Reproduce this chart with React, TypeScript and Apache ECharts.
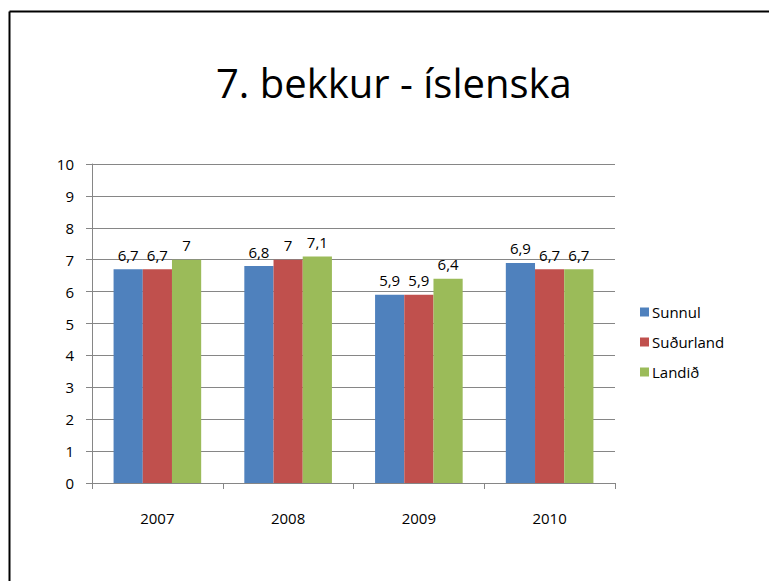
import React, { useEffect, useRef } from "react";
import * as echarts from "echarts";

const categories = ["2007", "2008", "2009", "2010"];
const seriesNames = ["Sunnul", "Suðurland", "Landið"];
const sunnul = [6.7, 6.8, 5.9, 6.9];
const sudurland = [6.7, 7, 5.9, 6.7];
const landid = [7, 7.1, 6.4, 6.7];
const colors = ["#4F81BD", "#C0504D", "#9BBB59"];
const titleText = "7. bekkur - íslenska";

const FONT = "'Open Sans', 'Noto Sans', sans-serif";

export default function App() {
  const ref = useRef<HTMLDivElement>(null);
  useEffect(() => {
    if (!ref.current) return;
    const chart = echarts.init(ref.current, null, { renderer: "svg" });
    const values = [sunnul, sudurland, landid];
    chart.setOption({
      animation: false,
      backgroundColor: "#ffffff",
      textStyle: { fontFamily: FONT },
      title: {
        text: titleText,
        left: 211,
        top: 57,
        textStyle: { fontFamily: FONT, fontSize: 40, fontWeight: "normal", color: "#000" },
      },
      graphic: [
        { type: "line", shape: { x1: 9.5, y1: 11.5, x2: 769, y2: 11.5 }, style: { stroke: "#000", lineWidth: 2 } },
        { type: "line", shape: { x1: 9.5, y1: 11.5, x2: 9.5, y2: 581 }, style: { stroke: "#000", lineWidth: 2 } },
      ],
      legend: {
        orient: "vertical",
        left: 635,
        top: 299,
        itemWidth: 9,
        itemHeight: 9,
        itemGap: 14,
        icon: "rect",
        textStyle: { fontFamily: FONT, fontSize: 15, color: "#000", lineHeight: 16, padding: [0, 0, 0, -2] },
        data: seriesNames,
      },
      grid: { left: 92, right: 154, top: 164, bottom: 98, containLabel: false },
      xAxis: {
        type: "category",
        data: categories,
        axisLine: { lineStyle: { color: "#868686", width: 1 } },
        axisTick: { show: true, length: 6, lineStyle: { color: "#868686" } },
        axisLabel: { color: "#000", fontSize: 15, margin: 27, fontFamily: FONT },
        splitLine: { show: false },
      },
      yAxis: {
        type: "value",
        min: 0,
        max: 10,
        interval: 1,
        axisLine: { show: true, lineStyle: { color: "#868686", width: 1 } },
        axisTick: { show: true, length: 6, lineStyle: { color: "#868686" } },
        axisLabel: { color: "#000", fontSize: 15, margin: 18, fontFamily: FONT },
        splitLine: { show: true, lineStyle: { color: "#868686", width: 1 } },
      },
      series: seriesNames.map((name, i) => ({
        name,
        type: "bar",
        data: values[i],
        barGap: "0%",
        barCategoryGap: "33%",
        itemStyle: { color: colors[i] },
        label: {
          show: true,
          position: "top",
          distance: 7,
          color: "#000",
          fontSize: 15,
          fontFamily: FONT,
          formatter: (p: any) => String(p.value).replace(".", ","),
        },
      })),
    });
    return () => chart.dispose();
  }, []);
  return (
    <div
      ref={ref}
      style={{ position: "absolute", left: 0, top: 0, width: 769, height: 581 }}
    />
  );
}
